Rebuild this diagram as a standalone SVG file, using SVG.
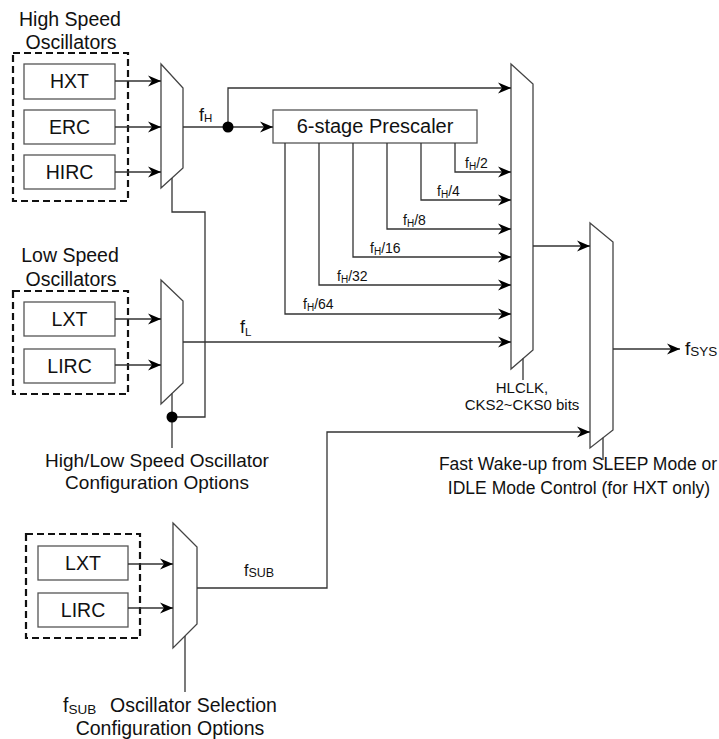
<svg xmlns="http://www.w3.org/2000/svg" width="719" height="739" viewBox="0 0 719 739">
<defs>
<style>
text{font-family:"Liberation Sans",Arial,sans-serif;fill:#111}
.big{font-size:19.5px}
.mid{font-size:17.5px}
.sm{font-size:14px}
.c{text-anchor:middle}
.box{fill:#fff;stroke:#555;stroke-width:1.3}
.dash{fill:none;stroke:#111;stroke-width:2.2;stroke-dasharray:7 4}
.mux{fill:#fff;stroke:#444;stroke-width:1.3}
.w{fill:none;stroke:#333;stroke-width:1.3}
.a{marker-end:url(#arr)}
</style>
<marker id="arr" viewBox="-13 -6 14 12" refX="0" refY="0" markerWidth="14" markerHeight="12" markerUnits="userSpaceOnUse" orient="auto">
<path d="M0,0 L-13,-5.5 L-9,0 L-13,5.5 Z" fill="#000"/>
</marker>
</defs>
<rect width="719" height="739" fill="#fff"/>

<g id="high-speed-group">
<text class="big c" x="70" y="26">High Speed</text>
<text class="big c" x="71" y="49">Oscillators</text>
<rect class="dash" x="13" y="53" width="115" height="148"/>
</g>
<g id="HXT"><rect class="box" x="24" y="64" width="91" height="35"/><text class="big c" x="69.5" y="88">HXT</text></g>
<g id="ERC"><rect class="box" x="24" y="110" width="91" height="34"/><text class="big c" x="69.5" y="134">ERC</text></g>
<g id="HIRC"><rect class="box" x="24" y="155" width="91" height="34"/><text class="big c" x="69.5" y="179">HIRC</text></g>

<g id="low-speed-group">
<text class="big c" x="70" y="262">Low Speed</text>
<text class="big c" x="71" y="286">Oscillators</text>
<rect class="dash" x="13" y="291" width="115" height="103"/>
</g>
<g id="LXT1"><rect class="box" x="24" y="302" width="91" height="34"/><text class="big c" x="69.5" y="326">LXT</text></g>
<g id="LIRC1"><rect class="box" x="24" y="349" width="91" height="34"/><text class="big c" x="69.5" y="373">LIRC</text></g>

<g id="sub-group"><rect class="dash" x="26" y="534" width="114" height="104"/></g>
<g id="LXT2"><rect class="box" x="38" y="546" width="90" height="34"/><text class="big c" x="83" y="570">LXT</text></g>
<g id="LIRC2"><rect class="box" x="38" y="593" width="90" height="34"/><text class="big c" x="83" y="617">LIRC</text></g>

<g id="mux-high"><polygon class="mux" points="161,64 183,88 183,168 161,188"/></g>
<g id="mux-low"><polygon class="mux" points="161,280 183,301 183,383 161,404"/></g>
<g id="mux-sub"><polygon class="mux" points="173,523 197,547 197,624 173,648"/></g>
<g id="mux-hl"><polygon class="mux" points="511,64 533,84 533,350 511,369"/></g>
<g id="mux-sys"><polygon class="mux" points="590,223 613,242 613,430 590,448"/></g>

<g id="prescaler"><rect class="box" x="273" y="110" width="204" height="33"/><text class="c" style="font-size:20px" x="375" y="133">6-stage Prescaler</text></g>

<g id="connectors">
<path class="w a" d="M115,81 H161"/>
<path class="w a" d="M115,127 H161"/>
<path class="w a" d="M115,172 H161"/>
<path class="w a" d="M115,319 H161"/>
<path class="w a" d="M115,365 H161"/>
<path class="w a" d="M128,564 H173"/>
<path class="w a" d="M128,608 H173"/>
<path class="w a" d="M183,127 H273"/>
<path class="w a" d="M228,127 V88 H511"/>
<path class="w a" d="M455,143 V172 H511"/>
<path class="w a" d="M421,143 V200 H511"/>
<path class="w a" d="M387,143 V229 H511"/>
<path class="w a" d="M353,143 V257 H511"/>
<path class="w a" d="M319,143 V285 H511"/>
<path class="w a" d="M285,143 V314 H511"/>
<path class="w a" d="M183,342 H511"/>
<path class="w a" d="M533,246 H590"/>
<path class="w a" d="M197,588 H327 V432 H590"/>
<path class="w a" d="M613,349 H680"/>
<path class="w" d="M172,178 V212 H205 V417 H172"/>
<path class="w" d="M172,393.5 V448"/>
<path class="w" d="M185,636 V692"/>
<path class="w" d="M523,358.6 V380"/>
<path class="w" d="M603,437.8 V460"/>
<circle cx="228" cy="127" r="5.5" fill="#000"/>
<circle cx="172" cy="417" r="5.5" fill="#000"/>
</g>

<g id="labels">
<text style="font-size:18px" x="199" y="121">f<tspan style="font-size:11.5px" dy="1">H</tspan></text>
<text style="font-size:18px" x="240" y="333">f<tspan style="font-size:11.5px" dy="3">L</tspan></text>
<text style="font-size:16px" x="244" y="576">f<tspan style="font-size:12.5px" dy="1">SUB</tspan></text>
<text style="font-size:19px" x="685" y="355">f<tspan style="font-size:13.5px" dy="1">SYS</tspan></text>
<text class="sm" x="465" y="168">f<tspan style="font-size:10px" dy="2">H</tspan><tspan dy="-2">/2</tspan></text>
<text class="sm" x="437" y="196">f<tspan style="font-size:10px" dy="2">H</tspan><tspan dy="-2">/4</tspan></text>
<text class="sm" x="403" y="225">f<tspan style="font-size:10px" dy="2">H</tspan><tspan dy="-2">/8</tspan></text>
<text class="sm" x="370" y="253">f<tspan style="font-size:10px" dy="2">H</tspan><tspan dy="-2">/16</tspan></text>
<text class="sm" x="337" y="281">f<tspan style="font-size:10px" dy="2">H</tspan><tspan dy="-2">/32</tspan></text>
<text class="sm" x="303" y="309">f<tspan style="font-size:10px" dy="2">H</tspan><tspan dy="-2">/64</tspan></text>
<text class="c" style="font-size:15px" x="522" y="393">HLCLK,</text>
<text class="c" style="font-size:15px" x="522" y="410">CKS2~CKS0 bits</text>
<text class="c" style="font-size:19px" x="157" y="467">High/Low Speed Oscillator</text>
<text class="c" style="font-size:19px" x="157" y="489">Configuration Options</text>
<text class="mid c" x="578" y="470">Fast Wake-up from SLEEP Mode or</text>
<text class="mid c" x="579" y="494">IDLE Mode Control (for HXT only)</text>
<text class="big" x="63" y="712">f<tspan style="font-size:13.5px" dy="2">SUB</tspan><tspan x="110" dy="-2">Oscillator Selection</tspan></text>
<text class="big c" x="170" y="735">Configuration Options</text>
</g>
</svg>
